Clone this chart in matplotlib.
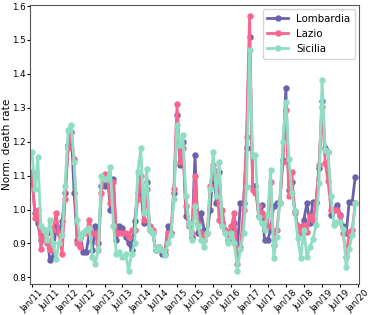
import matplotlib
matplotlib.use("Agg")
import matplotlib.pyplot as plt
import matplotlib.dates as mdates
import numpy as np
import pandas as pd

dates = pd.date_range("2011-01-01", "2019-12-01", freq="MS")

lombardia = [
    1.095, 0.99, 0.96, 0.91, 0.94, 0.93, 0.85, 0.86, 0.95, 0.93, 0.965, 1.05,
    1.19, 1.23, 1.05, 0.91, 0.92, 0.875, 0.875, 0.93, 0.88, 0.95, 0.90, 1.07,
    1.07, 1.10, 1.00, 1.09, 0.91, 0.95, 0.945, 0.92, 0.90, 0.88, 0.965, 1.05,
    1.06, 0.96, 1.08, 0.94, 0.93, 0.88, 0.89, 0.87, 0.87, 0.95, 0.93, 1.05,
    1.28, 1.13, 1.20, 0.98, 0.96, 0.92, 1.16, 0.93, 0.99, 0.94, 0.93, 1.00,
    1.12, 1.02, 1.11, 0.96, 0.94, 0.91, 0.93, 0.96, 0.89, 1.02, 1.02, 1.18,
    1.51, 1.07, 1.07, 0.98, 1.013, 0.91, 0.91, 0.94, 1.01, 1.02, 1.02, 1.146,
    1.357, 1.057, 1.08, 0.995, 0.95, 0.934, 0.97, 1.018, 0.96, 1.023, 1.023, 1.121,
    1.32, 1.18, 1.17, 0.983, 1.00, 1.013, 0.983, 0.95, 0.93, 1.023, 1.023, 1.097,
]
lazio = [
    1.11, 0.975, 1.00, 0.885, 0.93, 0.90, 0.88, 0.94, 0.99, 0.93, 0.87, 1.03,
    1.18, 1.23, 1.15, 0.90, 0.89, 0.93, 0.93, 0.97, 0.93, 0.93, 0.88, 1.05,
    1.105, 1.10, 1.02, 1.08, 0.93, 0.93, 0.93, 0.93, 0.92, 0.94, 0.94, 1.03,
    1.10, 0.97, 1.06, 0.95, 0.94, 0.88, 0.89, 0.88, 0.88, 0.93, 0.93, 1.06,
    1.31, 1.14, 1.18, 1.01, 0.95, 0.93, 1.10, 0.96, 0.93, 0.91, 0.93, 1.07,
    1.13, 1.09, 0.97, 1.00, 0.94, 0.93, 0.95, 0.99, 0.84, 0.89, 1.00, 1.215,
    1.57, 1.057, 1.05, 1.01, 0.99, 0.98, 0.95, 1.08, 0.895, 0.94, 1.02, 1.14,
    1.293, 1.04, 1.11, 0.99, 0.95, 0.93, 0.955, 0.935, 0.98, 0.97, 1.02, 1.13,
    1.303, 1.138, 1.085, 1.00, 1.00, 1.00, 0.98, 0.93, 0.86, 0.935, 0.94, 1.02,
]
sicilia = [
    1.17, 1.06, 1.155, 0.95, 0.94, 0.91, 0.97, 0.90, 0.855, 0.90, 0.925, 1.07,
    1.235, 1.25, 1.14, 0.97, 0.915, 0.93, 0.94, 0.945, 0.86, 0.84, 0.885, 1.10,
    1.09, 1.09, 1.125, 0.95, 0.87, 0.875, 0.86, 0.87, 0.82, 0.87, 0.90, 1.11,
    1.18, 0.99, 1.12, 0.94, 0.93, 0.88, 0.89, 0.88, 0.865, 0.90, 0.925, 1.03,
    1.25, 1.19, 1.22, 1.04, 0.96, 0.91, 1.01, 0.95, 0.91, 0.89, 0.93, 1.06,
    1.17, 1.04, 1.14, 0.95, 0.93, 0.90, 0.93, 0.90, 0.82, 0.885, 0.93, 1.067,
    1.47, 1.157, 1.16, 0.978, 0.96, 0.94, 0.983, 1.116, 0.856, 0.92, 1.02, 1.20,
    1.318, 1.15, 1.05, 0.995, 0.915, 0.858, 0.94, 0.86, 0.89, 0.913, 0.954, 1.077,
    1.382, 1.175, 1.17, 1.04, 0.954, 0.964, 0.964, 0.944, 0.83, 0.885, 0.925, 1.018,
]

series = [("Lombardia", lombardia, "#6A62AA"),
          ("Lazio", lazio, "#F8668E"),
          ("Sicilia", sicilia, "#8FDEC2")]

fig = plt.figure(figsize=(3.74, 3.15), dpi=100)
ax = fig.add_axes([0.080, 0.098, 0.880, 0.886])
for name, vals, col in series:
    ax.plot(dates, vals, color=col, lw=2.0, marker="o", ms=3.6, label=name)

ax.set_xlim(pd.Timestamp("2010-12-12"), pd.Timestamp("2020-01-08"))
ax.set_ylim(0.78, 1.603)
ax.xaxis.set_major_locator(mdates.MonthLocator(bymonth=[1, 7]))
ax.xaxis.set_major_formatter(mdates.DateFormatter("%b/%y"))
ax.tick_params(axis="x", labelsize=6.3, rotation=45, length=2.0, pad=1.0)
ax.tick_params(axis="y", labelsize=6.3, length=2.0, pad=0.8)
ax.set_ylabel("Norm. death rate", fontsize=7.6)
ax.yaxis.set_label_coords(-0.0555, 0.5)
ax.legend(loc="upper right", fontsize=7.4, handlelength=2.0, borderpad=0.45,
          labelspacing=0.5, borderaxespad=0.4)
for s in ax.spines.values():
    s.set_color("#555555")

fig.savefig("out.png", dpi=100)
